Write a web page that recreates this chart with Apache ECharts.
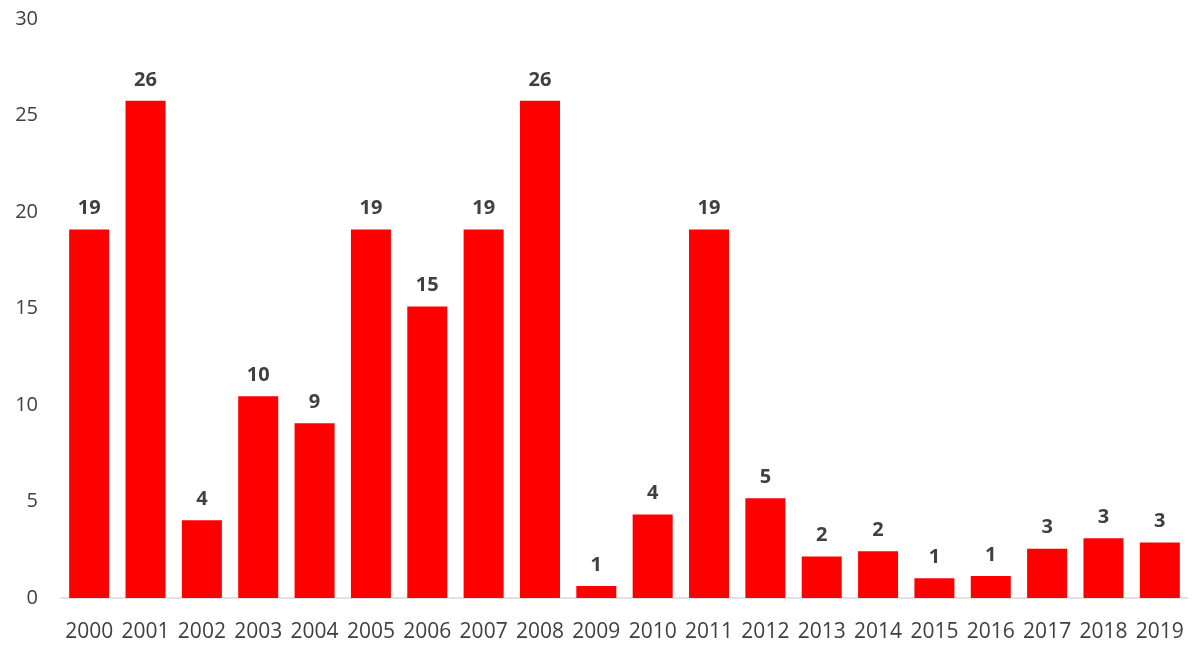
<!DOCTYPE html>
<html>
<head>
<meta charset="utf-8">
<script src="https://cdn.jsdelivr.net/npm/echarts@6/dist/echarts.min.js"></script>
<style>
html,body{margin:0;padding:0;background:#fff;}
#chart{width:1200px;height:650px;}
</style>
</head>
<body>
<div id="chart"></div>
<script>
const categories = ['2000','2001','2002','2003','2004','2005','2006','2007','2008','2009','2010','2011','2012','2013','2014','2015','2016','2017','2018','2019'];
const values = [19.09, 25.76, 4.03, 10.45, 9.05, 19.09, 15.1, 19.09, 25.76, 0.62, 4.32, 19.09, 5.17, 2.15, 2.42, 1.02, 1.14, 2.55, 3.1, 2.88];
const valueLabels = ['19','26','4','10','9','19','15','19','26','1','4','19','5','2','2','1','1','3','3','3'];
const yTicks = [0, 5, 10, 15, 20, 25, 30];

const chart = echarts.init(document.getElementById('chart'));
chart.setOption({
  animation: false,
  backgroundColor: '#ffffff',
  grid: { left: 61, right: 12, top: 19, bottom: 52 },
  xAxis: {
    type: 'category',
    data: categories,
    axisLine: { lineStyle: { color: '#d9d9d9', width: 1.5 } },
    axisTick: { show: false },
    axisLabel: { color: '#404040', fontFamily: 'Open Sans', fontSize: 21, margin: 24, interval: 0 }
  },
  yAxis: {
    type: 'value',
    min: yTicks[0],
    max: yTicks[yTicks.length - 1],
    interval: 5,
    splitLine: { show: false },
    axisLine: { show: false },
    axisTick: { show: false },
    axisLabel: { color: '#404040', fontFamily: 'Open Sans', fontSize: 20, margin: 23 }
  },
  series: [{
    type: 'bar',
    data: values,
    barCategoryGap: '29%',
    itemStyle: { color: '#ff0000' },
    label: {
      show: true,
      position: 'top',
      distance: 11,
      color: '#404040',
      fontFamily: 'Open Sans',
      fontWeight: 'bold',
      fontSize: 20,
      formatter: p => valueLabels[p.dataIndex]
    }
  }]
});
</script>
</body>
</html>
